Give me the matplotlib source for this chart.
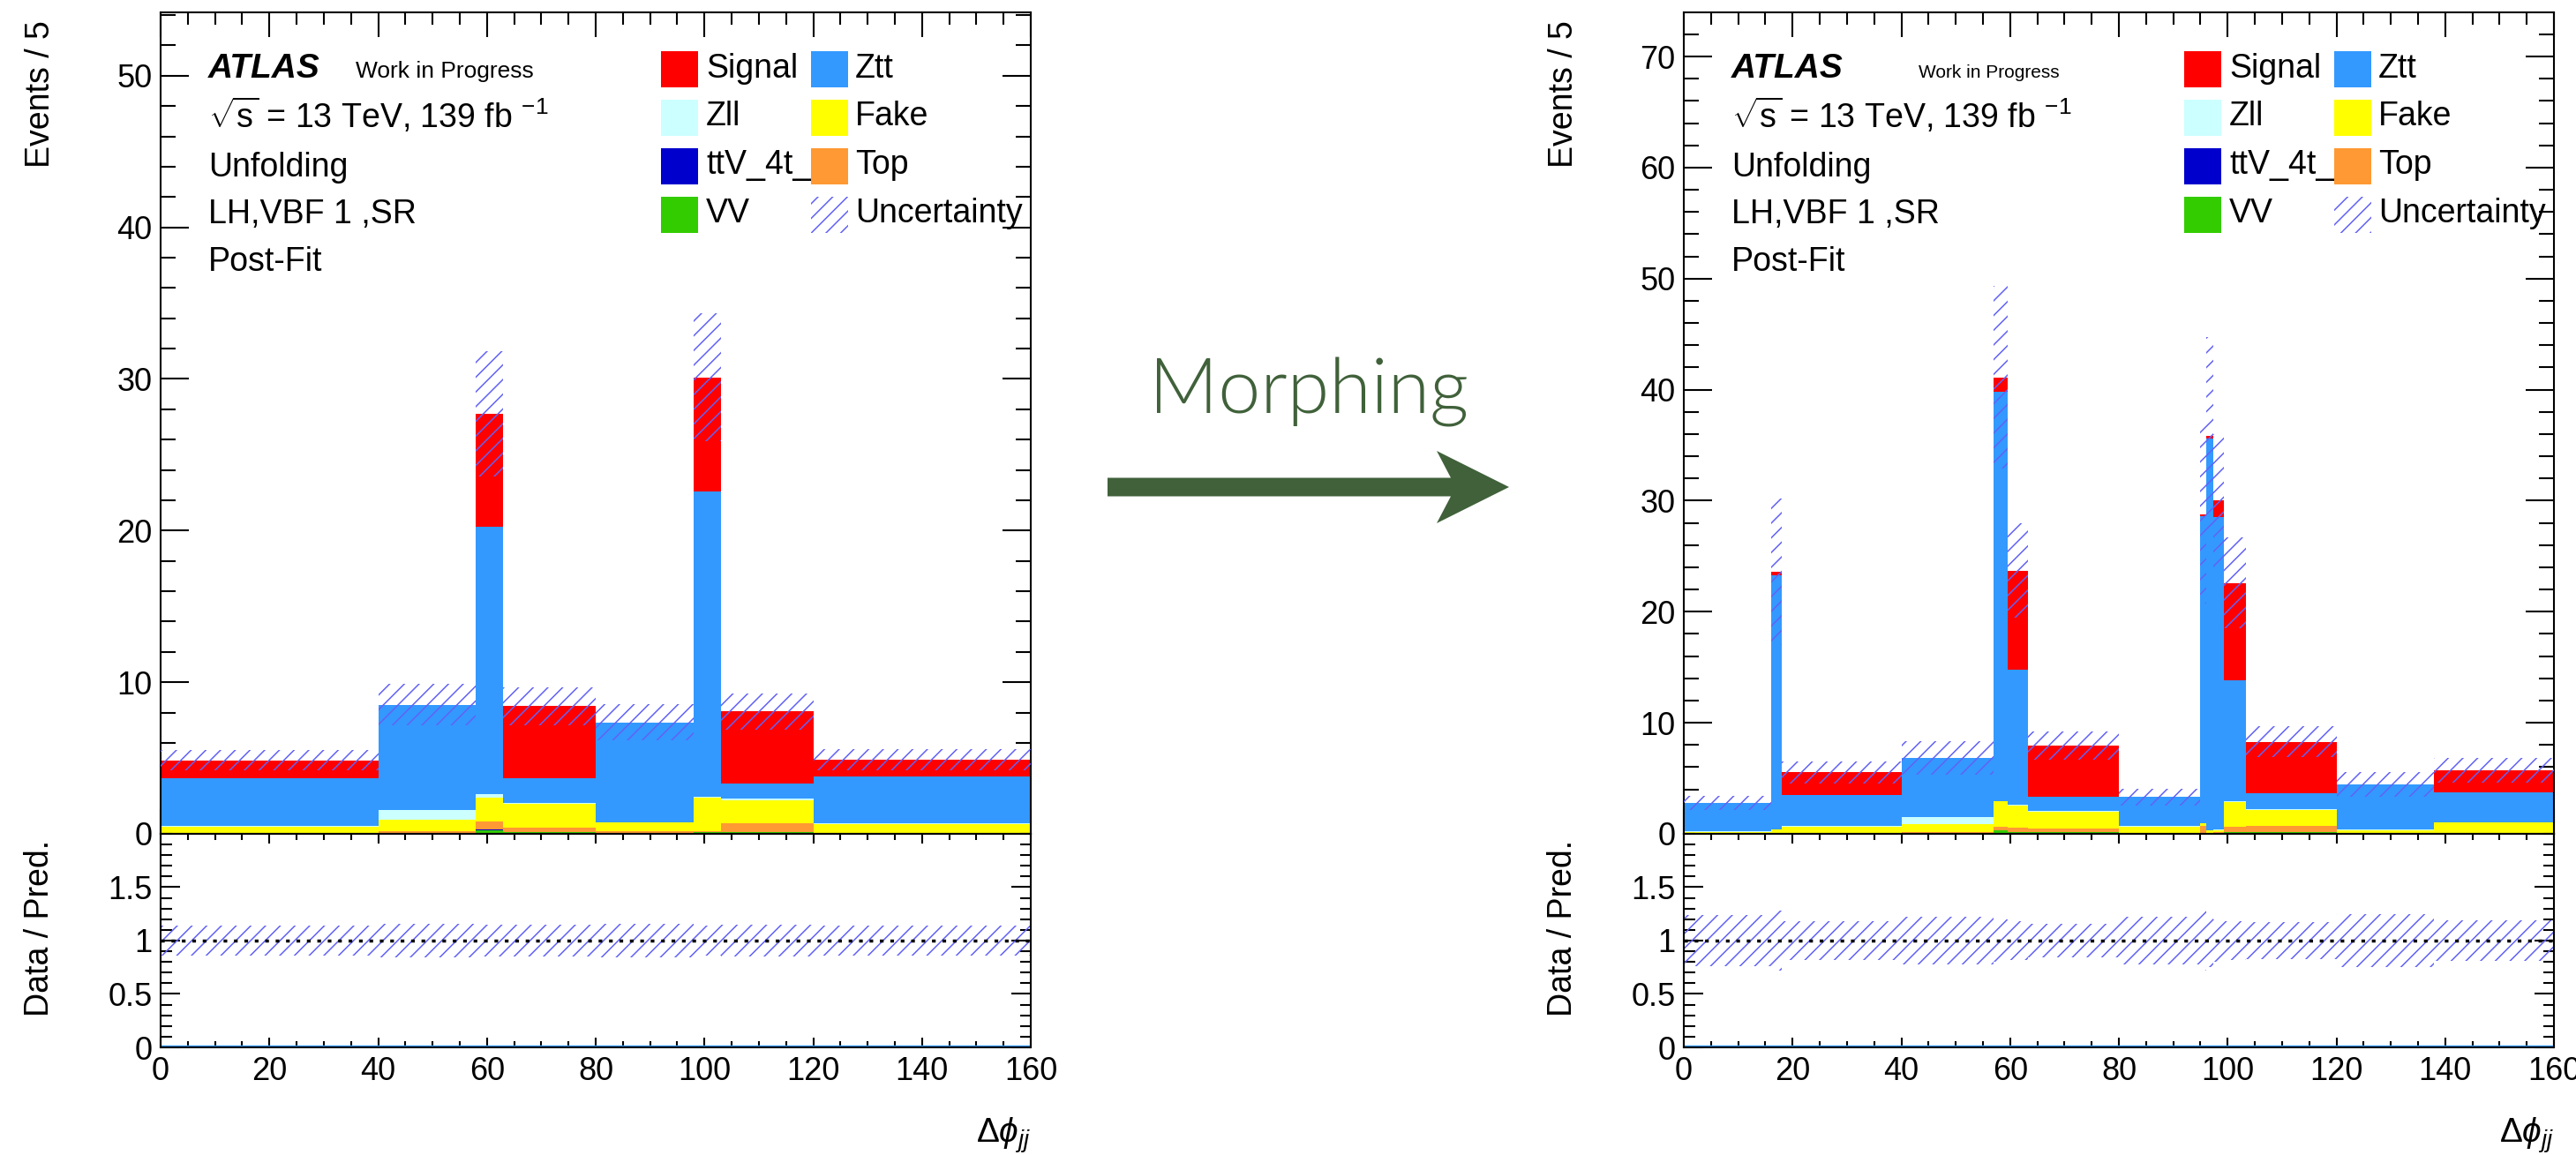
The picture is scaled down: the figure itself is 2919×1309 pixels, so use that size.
import numpy as np
import matplotlib.pyplot as plt
from matplotlib.patches import Rectangle, Polygon
from matplotlib.ticker import MultipleLocator, FixedLocator, FixedFormatter

plt.rcParams['font.family'] = ['Liberation Sans', 'DejaVu Sans']
plt.rcParams['mathtext.fontset'] = 'custom'
plt.rcParams['mathtext.rm'] = 'Liberation Sans'
plt.rcParams['mathtext.it'] = 'Liberation Sans:italic'
plt.rcParams['mathtext.bf'] = 'Liberation Sans:bold'
plt.rcParams['hatch.linewidth'] = 1.1

# 样本名称 (从下往上堆叠)
samples = ['VV', 'ttV_4t_', 'Top', 'Fake', 'Zll', 'Ztt', 'Signal']
colors = ['#33cc00', '#0000cc', '#ff9933', '#ffff00', '#ccffff', '#3399ff', '#ff0000']
hatch_color = '#6262f5'

# 左图: morphing 之前
left_edges = [0, 40, 58, 63, 80, 98, 103, 120, 160]
left_vv = [0.03, 0.05, 0.25, 0.10, 0.05, 0.10, 0.12, 0.03]
left_ttv = [0.01, 0.01, 0.02, 0.02, 0.01, 0.02, 0.02, 0.01]
left_top = [0.04, 0.09, 0.56, 0.27, 0.14, 0.08, 0.58, 0.02]
left_fake = [0.40, 0.78, 1.55, 1.60, 0.54, 2.18, 1.47, 0.56]
left_zll = [0.04, 0.62, 0.23, 0.04, 0.03, 0.04, 0.13, 0.06]
left_ztt = [3.16, 6.97, 17.66, 1.65, 6.59, 20.18, 1.01, 3.09]
left_signal = [1.16, 0.00, 7.43, 4.74, 0.00, 7.50, 4.74, 1.13]
left_unc = [0.14, 0.16, 0.15, 0.15, 0.16, 0.14, 0.15, 0.14]  # 相对不确定度

# 右图: morphing 之后
right_edges = [0, 16, 18, 40, 57, 59.5, 63.3, 80, 95, 96, 97.4, 99.3, 103.3, 120, 138, 160]
right_vv = [0.02, 0.03, 0.05, 0.05, 0.30, 0.18, 0.12, 0.04, 0.05, 0.03, 0.05, 0.12, 0.12, 0.03, 0.04]
right_ttv = [0.01, 0.01, 0.01, 0.01, 0.01, 0.01, 0.01, 0.01, 0.01, 0.01, 0.01, 0.01, 0.01, 0.01, 0.01]
right_top = [0.02, 0.04, 0.04, 0.09, 0.32, 0.36, 0.32, 0.05, 0.69, 0.06, 0.09, 0.47, 0.57, 0.04, 0.05]
right_fake = [0.13, 0.32, 0.56, 0.70, 2.27, 2.01, 1.53, 0.56, 0.20, 0.20, 0.20, 2.25, 1.42, 0.27, 0.90]
right_zll = [0.02, 0.02, 0.03, 0.65, 0.07, 0.08, 0.05, 0.03, 0.03, 0.03, 0.03, 0.10, 0.08, 0.03, 0.04]
right_ztt = [2.58, 22.88, 2.78, 5.35, 36.83, 12.16, 1.27, 2.61, 27.62, 35.27, 28.12, 10.85, 1.44, 4.09, 2.70]
right_signal = [0.00, 0.30, 2.08, 0.00, 1.30, 8.90, 4.68, 0.00, 0.20, 0.20, 1.50, 8.80, 4.66, 0.00, 1.99]
right_unc = [0.24, 0.28, 0.18, 0.22, 0.20, 0.18, 0.16, 0.22, 0.28, 0.25, 0.20, 0.18, 0.17, 0.25, 0.19]

W, H = 2919, 1309
fig = plt.figure(figsize=(W / 100, H / 100), dpi=100)


def style_ticks(ax, xmaj, xmin, ymaj, ymin):
    ax.tick_params(which='both', direction='in', top=True, right=True, width=1.5,
                   labelsize=26, pad=7)
    ax.tick_params(axis='x', which='major', length=xmaj)
    ax.tick_params(axis='x', which='minor', length=xmin)
    ax.tick_params(axis='y', which='major', length=ymaj)
    ax.tick_params(axis='y', which='minor', length=ymin)
    for s in ax.spines.values():
        s.set_linewidth(1.5)


def draw_panel(x0, edges, comps, unc, wip_x, wip_size):
    edges = np.array(edges)
    comps = [np.array(c) for c in comps]
    unc = np.array(unc)

    ax = fig.add_axes([x0, 0.27808, 0.33779, 0.71122])
    ax_r = fig.add_axes([x0, 0.09320, 0.33779, 0.18488])

    # 堆叠直方图
    bottom = np.zeros(len(edges) - 1)
    for c, col in zip(comps, colors):
        ax.stairs(bottom + c, edges, baseline=bottom.copy(), fill=True,
                  color=col, lw=0, zorder=2)
        bottom = bottom + c
    total = bottom

    # 不确定度阴影
    ax.stairs(total * (1 + unc), edges, baseline=total * (1 - unc), fill=True,
              facecolor='none', edgecolor=hatch_color, hatch='//', lw=0, zorder=3)

    ax.set_xlim(0, 160)
    ax.set_ylim(0, 1.8 * total.max())
    ax.xaxis.set_major_locator(MultipleLocator(20))
    ax.xaxis.set_minor_locator(MultipleLocator(5))
    ax.yaxis.set_major_locator(MultipleLocator(10))
    ax.yaxis.set_minor_locator(MultipleLocator(2))
    ax.tick_params(labelbottom=False)
    style_ticks(ax, 20, 10, 23, 12)

    ax.text(-0.138, 0.99, 'Events / 5', rotation=90, ha='center', va='top',
            fontsize=27, transform=ax.transAxes)

    # ATLAS 标签
    ax.text(0.0548, 0.9205, 'ATLAS', fontsize=28, fontweight='bold', fontstyle='italic',
            va='baseline', transform=ax.transAxes)
    ax.text(wip_x, 0.9205, 'Work in Progress', fontsize=wip_size, va='baseline',
            transform=ax.transAxes)
    info = [r'$\sqrt{\mathrm{s}}$ = 13 TeV, 139 fb $^{-1}$', 'Unfolding', 'LH,VBF 1 ,SR', 'Post-Fit']
    for txt, yy in zip(info, [0.859, 0.800, 0.743, 0.685]):
        ax.text(0.0548, yy, txt, fontsize=27, va='baseline', transform=ax.transAxes)

    # 图例 (两列)
    names = ['Signal', 'Ztt', 'Zll', 'Fake', 'ttV_4t_', 'Top', 'VV', 'Uncertainty']
    cols = ['#ff0000', '#3399ff', '#ccffff', '#ffff00', '#0000cc', '#ff9933', '#33cc00', None]
    box_x = [0.575, 0.747]
    txt_x = [0.627, 0.798]
    row_top = [0.953, 0.894, 0.835, 0.776]
    bh, bw = 0.044, 0.043
    for i, (nm, cl) in enumerate(zip(names, cols)):
        r, c = i // 2, i % 2
        ax.text(txt_x[c], row_top[r] - bh + 0.012, nm, fontsize=27, va='baseline',
                transform=ax.transAxes, zorder=5)
        if cl is None:
            box = Rectangle((box_x[c], row_top[r] - bh), bw, bh, transform=ax.transAxes,
                            facecolor='none', edgecolor=hatch_color, hatch='//', lw=0, zorder=6)
        else:
            box = Rectangle((box_x[c], row_top[r] - bh), bw, bh, transform=ax.transAxes,
                            facecolor=cl, edgecolor='none', zorder=6)
        ax.add_patch(box)

    # 比值图
    ax_r.stairs(1 + unc, edges, baseline=1 - unc, fill=True, facecolor='none',
                edgecolor=hatch_color, hatch='//', lw=0, zorder=2)
    ax_r.axhline(1, color='black', ls=(0, (1.2, 2.2)), lw=2.5, zorder=3)
    ax_r.axhline(0.012, color='#3399ff', lw=2.5, zorder=2)
    ax_r.set_xlim(0, 160)
    ax_r.set_ylim(0, 2)
    ax_r.xaxis.set_major_locator(MultipleLocator(20))
    ax_r.xaxis.set_minor_locator(MultipleLocator(5))
    ax_r.yaxis.set_major_locator(FixedLocator([0, 0.5, 1, 1.5]))
    ax_r.yaxis.set_major_formatter(FixedFormatter(['0', '0.5', '1', '1.5']))
    ax_r.yaxis.set_minor_locator(MultipleLocator(0.1))
    style_ticks(ax_r, 8, 5, 16, 9)
    ax_r.text(-0.139, 0.56, 'Data / Pred.', rotation=90, ha='center', va='center',
              fontsize=27, transform=ax_r.transAxes)
    ax_r.text(1.0, -0.41, r'$\mathit{\Delta}\phi_{jj}$', ha='right', va='center',
              fontsize=28, transform=ax_r.transAxes)


draw_panel(0.06235,
           left_edges,
           [left_vv, left_ttv, left_top, left_fake, left_zll, left_ztt, left_signal],
           left_unc, 0.224, 19)
draw_panel(0.65365,
           right_edges,
           [right_vv, right_ttv, right_top, right_fake, right_zll, right_ztt, right_signal],
           right_unc, 0.270, 15)

# 中间的 Morphing 箭头
green = '#40613a'
fig.text(1483 / W, 1 - 469 / H, 'Morphing', fontsize=62, family=['Lato', 'Liberation Sans'],
         fontweight=300, color=green, ha='center', va='baseline')
tail, tip, yc = 1255, 1710, 552
half_w, head_back, head_half, notch = 10.5, 1628, 41, 1644
pts = [(tail, yc - half_w), (notch, yc - half_w), (head_back, yc - head_half), (tip, yc),
       (head_back, yc + head_half), (notch, yc + half_w), (tail, yc + half_w)]
fig.patches.append(Polygon([(px / W, 1 - py / H) for px, py in pts], closed=True,
                           transform=fig.transFigure, facecolor=green, edgecolor='none'))

plt.savefig('out.png', dpi=100)
plt.close()
